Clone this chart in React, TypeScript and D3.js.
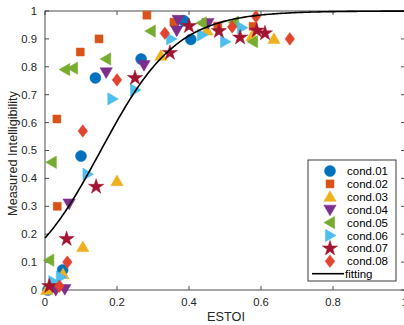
import React from 'react'
import * as d3 from 'd3'

// data: [ESTOI, measured intelligibility]
const cond01 = [[0.008, 0.0], [0.049, 0.072], [0.1, 0.48], [0.14, 0.76], [0.267, 0.828], [0.386, 0.965], [0.405, 0.898]]
const cond02 = [[0.02, 0.01], [0.034, 0.3], [0.033, 0.613], [0.098, 0.853], [0.15, 0.9], [0.283, 0.985], [0.358, 0.96], [0.48, 0.946], [0.578, 0.945]]
const cond03 = [[0.005, 0.0], [0.05, 0.057], [0.105, 0.154], [0.2, 0.39], [0.322, 0.84], [0.45, 0.93], [0.575, 0.91], [0.636, 0.9]]
const cond04 = [[0.03, 0.0], [0.055, 0.003], [0.067, 0.31], [0.17, 0.78], [0.275, 0.806], [0.366, 0.93], [0.37, 0.968], [0.453, 0.957]]
const cond05 = [[0.012, 0.107], [0.019, 0.458], [0.056, 0.79], [0.078, 0.795], [0.17, 0.828], [0.294, 0.928], [0.436, 0.957], [0.525, 0.96], [0.578, 0.89]]
const cond06 = [[0.023, 0.03], [0.044, 0.046], [0.118, 0.415], [0.187, 0.685], [0.25, 0.717], [0.35, 0.9], [0.436, 0.914], [0.5, 0.89], [0.547, 0.94]]
const cond07 = [[0.012, 0.014], [0.06, 0.183], [0.142, 0.37], [0.25, 0.76], [0.347, 0.85], [0.4, 0.946], [0.483, 0.928], [0.542, 0.905], [0.588, 0.93], [0.611, 0.92]]
const cond08 = [[0.04, 0.014], [0.062, 0.1], [0.105, 0.57], [0.2, 0.753], [0.333, 0.92], [0.52, 0.943], [0.586, 0.98], [0.68, 0.9]]

const seriesNames = ['cond.01', 'cond.02', 'cond.03', 'cond.04', 'cond.05', 'cond.06', 'cond.07', 'cond.08']
const seriesData = [cond01, cond02, cond03, cond04, cond05, cond06, cond07, cond08]
const colors = ['#0072BD', '#D95319', '#EDB120', '#7E2F8E', '#77AC30', '#4DBEEE', '#A2142F', '#E2452F']

// logistic fit parameters
const fitA = 9.5
const fitB = 0.155

const xTicks = [0, 0.2, 0.4, 0.6, 0.8, 1]
const yTicks = [0, 0.1, 0.2, 0.3, 0.4, 0.5, 0.6, 0.7, 0.8, 0.9, 1]

const W = 404
const H = 325
const left = 45, right = 405, top = 11, bottom = 290

const font = '"Liberation Sans", Arial, Helvetica, sans-serif'

const marker = (i: number) => {
  // returns [path, extra transform]
  switch (i) {
    case 0: return [d3.symbol(d3.symbolCircle, 95)(), '']
    case 1: return [d3.symbol(d3.symbolSquare, 64)(), '']
    case 2: return [d3.symbol(d3.symbolTriangle, 66)(), ' translate(0,1)']
    case 3: return [d3.symbol(d3.symbolTriangle, 66)(), ' rotate(180) translate(0,1)']
    case 4: return [d3.symbol(d3.symbolTriangle, 66)(), ' rotate(-90) translate(0,1)']
    case 5: return [d3.symbol(d3.symbolTriangle, 66)(), ' rotate(90) translate(0,1)']
    case 6: return [d3.symbol(d3.symbolStar, 72)(), '']
    default: return [d3.symbol(d3.symbolSquare, 72)(), ' scale(0.8,1.05) rotate(45)']
  }
}

export default function App() {
  const x = d3.scaleLinear().domain([0, 1]).range([left, right])
  const y = d3.scaleLinear().domain([0, 1]).range([bottom, top])

  const fitX = d3.range(0, 1.0001, 0.005)
  const line = d3.line<number>()
    .x(d => x(d))
    .y(d => y(1 / (1 + Math.exp(-fitA * (d - fitB)))))
  const axisColor = '#3a3a3a'

  const legX = 308, legY = 160, legW = 88, legH = 121
  const rowY = (i: number) => 171 + i * 12.9

  return (
    <div style={{ position: 'absolute', left: 0, top: 0 }}>
      <svg width={W} height={H} style={{ display: 'block', background: '#fff' }} fontFamily={font}>
        {/* axes box */}
        <rect x={left} y={top} width={right - left} height={bottom - top} fill="none" stroke={axisColor} strokeWidth={0.9} />
        {xTicks.map(t => (
          <g key={'x' + t}>
            <line x1={x(t)} x2={x(t)} y1={bottom} y2={bottom - 4} stroke={axisColor} strokeWidth={0.9} />
            <line x1={x(t)} x2={x(t)} y1={top} y2={top + 4} stroke={axisColor} strokeWidth={0.9} />
            <text x={x(t)} y={306} textAnchor="middle" fontSize={11.3} fill="#262626">{String(t)}</text>
          </g>
        ))}
        {yTicks.map(t => (
          <g key={'y' + t}>
            <line x1={left} x2={left + 4} y1={y(t)} y2={y(t)} stroke={axisColor} strokeWidth={0.9} />
            <line x1={right} x2={right - 4} y1={y(t)} y2={y(t)} stroke={axisColor} strokeWidth={0.9} />
            <text x={37} y={y(t)} dy="0.35em" textAnchor="end" fontSize={11.3} fill="#262626">{String(t)}</text>
          </g>
        ))}
        <text x={226} y={321} textAnchor="middle" fontSize={12.7} fill="#262626">ESTOI</text>
        <text transform={`translate(17,${(top + bottom) / 2 + 3}) rotate(-90)`} textAnchor="middle" fontSize={12.7} fill="#262626">Measured Intelligibility</text>

        {/* points */}
        {seriesData.map((pts, i) => {
          const [p, tr] = marker(i)
          return (
            <g key={seriesNames[i]}>
              {pts.map((d, j) => (
                <path key={j} d={p as string} transform={`translate(${x(d[0])},${y(d[1])})${tr}`} fill={colors[i]} stroke={colors[i]} strokeWidth={0.5} />
              ))}
            </g>
          )
        })}

        {/* fitting */}
        <path d={line(fitX) as string} fill="none" stroke="#000" strokeWidth={1.6} />

        {/* legend */}
        <rect x={legX} y={legY} width={legW} height={legH} fill="#fff" stroke="#262626" strokeWidth={0.9} />
        {seriesNames.map((n, i) => {
          const [p, tr] = marker(i)
          return (
            <g key={'l' + n}>
              <path d={p as string} transform={`translate(330,${rowY(i)})${tr}`} fill={colors[i]} stroke={colors[i]} strokeWidth={0.5} />
              <text x={347} y={rowY(i)} dy="0.35em" fontSize={11.5} fill="#000">{n}</text>
            </g>
          )
        })}
        <line x1={312} x2={344} y1={rowY(8) - 0.5} y2={rowY(8) - 0.5} stroke="#000" strokeWidth={1.6} />
        <text x={345} y={rowY(8)} dy="0.35em" fontSize={11.5} fill="#000">fitting</text>
      </svg>
    </div>
  )
}
